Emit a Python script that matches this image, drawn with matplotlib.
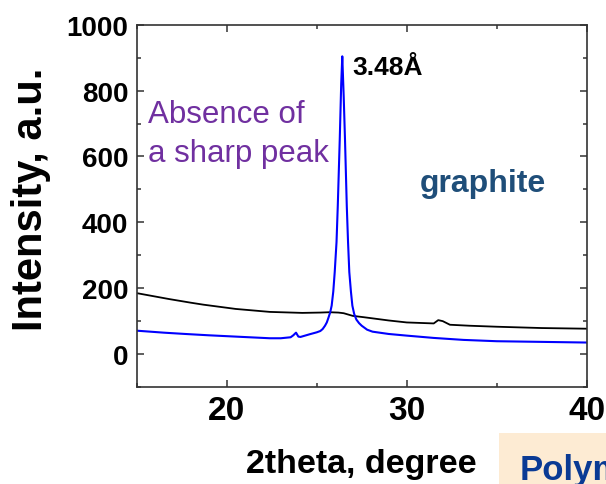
import matplotlib
matplotlib.use('Agg')
import matplotlib.pyplot as plt
from matplotlib.patches import Rectangle
from matplotlib.ticker import MultipleLocator

plt.rcParams['font.family'] = ['Liberation Sans', 'DejaVu Sans']

# black trace (no sharp peak)
black_x = [15, 16, 16.8, 18, 18.7, 20.5, 22.4, 24.2, 25.2, 25.7, 26.2, 26.5, 27.0,
           27.6, 28.3, 29, 30, 31.0, 31.5, 31.75, 32.0, 32.4, 33.5, 35, 37.5, 40]
black_y = [185, 175, 167, 156, 150, 137, 128, 125, 126, 127, 126, 124, 116,
           112, 107, 102, 96, 94, 93, 103, 100, 89, 86, 83, 79, 77]

# blue trace (graphite)
blue_x = [15, 16.5, 17.7, 19, 20.5, 22.4, 23.0, 23.55, 23.7, 23.85, 23.98, 24.1, 24.6,
          25.0, 25.2, 25.33, 25.46, 25.56, 25.65, 25.75, 25.83, 25.92, 26.0, 26.1, 26.17,
          26.28, 26.36, 26.42, 26.5, 26.57, 26.67, 26.74, 26.81, 26.9, 26.98, 27.08,
          27.2, 27.35, 27.5, 27.8, 28.1, 29.0, 30.0, 31.5, 33.15, 35.0, 37.5, 40.0]
blue_y = [71, 65, 61, 57, 53, 48, 48, 51, 57, 65, 53, 52, 60,
          66, 70, 76, 86, 96, 110, 127, 147, 190, 249, 340, 450,
          653, 820, 904, 780, 653, 450, 340, 249, 190, 147, 122,
          105, 94, 86, 74, 68, 61, 56, 49, 43, 39, 37, 35]

fig = plt.figure(figsize=(6.06, 4.85), dpi=100)
ax = fig.add_axes([0.2256, 0.2, 0.7426, 0.747])

ax.plot(black_x, black_y, color='black', linewidth=1.3)
ax.plot(blue_x, blue_y, color='#0000FF', linewidth=1.5)

ax.set_xlim(15, 40)
ax.set_ylim(-100, 1000)
ax.xaxis.set_major_locator(MultipleLocator(10))
ax.xaxis.set_minor_locator(MultipleLocator(5))
ax.yaxis.set_major_locator(MultipleLocator(200))
ax.yaxis.set_minor_locator(MultipleLocator(100))
ax.tick_params(which='both', direction='in', top=True, right=True, width=1.1, color='#333333')
ax.tick_params(which='major', length=5, pad=6)
ax.tick_params(axis='y', labelsize=20)
ax.tick_params(axis='x', labelsize=24)
ax.tick_params(which='minor', length=3)
for lab in ax.get_xticklabels() + ax.get_yticklabels():
    lab.set_fontweight('bold')
for sp in ax.spines.values():
    sp.set_linewidth(1.2)
    sp.set_color('#333333')

ax.set_xlabel('2theta, degree', fontsize=24.5, fontweight='bold')
ax.xaxis.set_label_coords(0.5, -0.168)
ax.set_ylabel('Intensity, a.u.', fontsize=30, fontweight='bold')
ax.yaxis.set_label_coords(-0.19, 0.52)

ax.text(27.0, 871, '3.48Å', fontsize=19, fontweight='bold', va='center', ha='left')
ax.text(15.63, 587, 'Absence of\na sharp peak', fontsize=22.5, color='#7030A0',
        va='baseline', ha='left', linespacing=1.37)
ax.text(30.74, 496, 'graphite', fontsize=23, fontweight='bold', color='#1F4E79',
        va='baseline', ha='left')

# cropped slide box in the corner
fig.patches.append(Rectangle((499 / 606, 0), 0.2, 51 / 485, transform=fig.transFigure,
                             facecolor='#FDEBD3', edgecolor='none', zorder=0))
fig.text(520 / 606, 5 / 485, 'Polymer', fontsize=25, fontweight='bold', color='#0A3A94',
         va='baseline', ha='left')

fig.savefig('out.png', dpi=100)
